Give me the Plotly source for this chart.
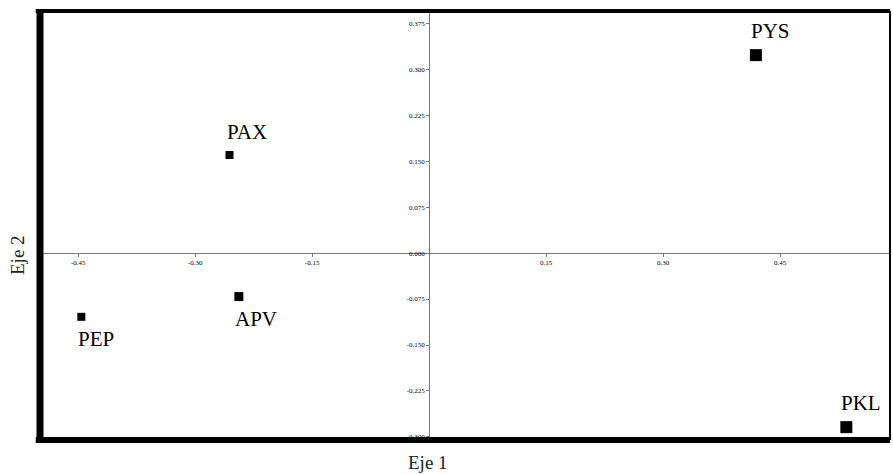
import plotly.graph_objects as go

# Data
names = ["PAX", "PYS", "APV", "PEP", "PKL"]
eje1 = [-0.256, 0.419, -0.244, -0.446, 0.535]
eje2 = [0.160, 0.323, -0.071, -0.104, -0.284]
marker_sizes = [8, 12, 9, 8, 12]
label_above = [True, True, False, False, True]

x_ticks = [-0.45, -0.30, -0.15, 0.15, 0.30, 0.45, 0.60]
x_ticktext = ["-0.45", "-0.30", "-0.15", "0.15", "0.30", "0.45", "0.60"]
y_ticks = [0.375, 0.300, 0.225, 0.150, 0.075, 0.000, -0.075, -0.150, -0.225, -0.300]
y_ticktext = ["0.375", "0.300", "0.225", "0.150", "0.075", "0.000", "-0.075", "-0.150", "-0.225", "-0.300"]

x_range = [-0.499, 0.591]
y_range = [-0.305, 0.395]

serif = "Times New Roman"

fig = go.Figure()
fig.add_trace(go.Scatter(
    x=eje1, y=eje2, mode="markers",
    marker=dict(symbol="square", color="#000000", opacity=1, size=marker_sizes, line=dict(width=0)),
    hoverinfo="text", text=names, showlegend=False,
))

annotations = []
for n, x, y, s, above in zip(names, eje1, eje2, marker_sizes, label_above):
    annotations.append(dict(
        x=x, y=y, xref="x", yref="y", text=n, showarrow=False,
        xanchor="left", yanchor="middle",
        xshift=-s / 2 - 1, yshift=(23 if above else -22) + (1 if s > 10 else 0),
        font=dict(family=serif, size=21, color="black"),
    ))

# axis titles
annotations.append(dict(x=(428 - 40) / 850.0, y=-(462 - 440) / 429.0, xref="paper", yref="paper",
                        text="Eje 1", showarrow=False, xanchor="center", yanchor="middle",
                        font=dict(family=serif, size=19, color="#222")))
annotations.append(dict(x=-(40 - 17) / 850.0, y=(440 - 255) / 429.0, xref="paper", yref="paper", text="Eje 2",
                        showarrow=False, textangle=-90, xanchor="center", yanchor="middle",
                        font=dict(family=serif, size=19, color="#222")))

pos_x0 = (0 - x_range[0]) / (x_range[1] - x_range[0])
pos_y0 = (0 - y_range[0]) / (y_range[1] - y_range[0])

axis_common = dict(showgrid=False, zeroline=False, showline=True, linecolor="#777", linewidth=1,
                   ticks="outside", ticklen=3, tickcolor="#777", tickwidth=1,
                   tickfont=dict(family=serif, size=7, color="#000"), anchor="free")

fig.update_layout(
    width=893, height=474,
    margin=dict(l=40, r=3, t=11, b=34),
    paper_bgcolor="white", plot_bgcolor="white",
    xaxis=dict(range=x_range, tickvals=x_ticks, ticktext=x_ticktext, position=pos_y0, **axis_common),
    yaxis=dict(range=y_range, tickvals=y_ticks, ticktext=y_ticktext, position=pos_x0, **axis_common),
    annotations=annotations,
    shapes=[
        dict(type="line", xref="paper", yref="paper", x0=-0.005, x1=1, y0=1, y1=1, line=dict(color="black", width=4), layer="above"),
        dict(type="line", xref="paper", yref="paper", x0=1, x1=1, y0=0, y1=1, line=dict(color="black", width=2), layer="above"),
        dict(type="line", xref="paper", yref="paper", x0=0, x1=0, y0=-0.007, y1=1.004, line=dict(color="black", width=7), layer="above"),
        dict(type="line", xref="paper", yref="paper", x0=-0.005, x1=1, y0=0, y1=0, line=dict(color="black", width=6), layer="above"),
    ],
)

fig.write_html("out.html", config={"displayModeBar": False},
               post_script="document.body.style.margin='0';document.body.style.overflow='hidden';")
